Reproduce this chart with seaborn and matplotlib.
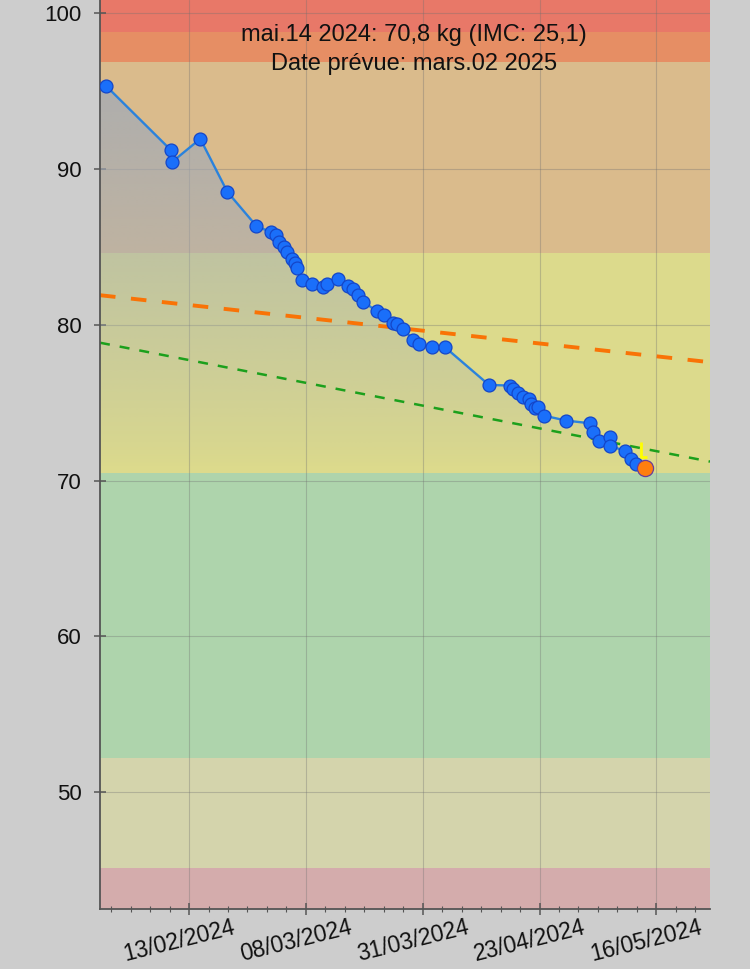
import numpy as np
import pandas as pd
import matplotlib
matplotlib.use("Agg")
import matplotlib.pyplot as plt
import matplotlib.dates as mdates
import matplotlib.transforms as mtransforms
from matplotlib.ticker import AutoMinorLocator, FixedLocator
from matplotlib.patches import Polygon
from matplotlib.path import Path
import seaborn as sns

sns.set_style("ticks")
plt.rcParams['font.family'] = ['Liberation Sans', 'DejaVu Sans']

# weight log (date, kg)
dates = [
    "2024-01-28 06:00", "2024-02-10 07:30", "2024-02-10 12:00", "2024-02-16 02:00",
    "2024-02-21 11:00", "2024-02-27 05:30", "2024-03-01 03:30", "2024-03-02 05:00",
    "2024-03-02 19:00", "2024-03-03 16:00", "2024-03-04 09:30", "2024-03-05 06:30",
    "2024-03-05 22:00", "2024-03-06 09:30", "2024-03-07 06:00", "2024-03-09 09:00",
    "2024-03-11 13:30", "2024-03-12 08:30", "2024-03-14 10:30", "2024-03-16 13:00",
    "2024-03-17 10:00", "2024-03-18 10:00", "2024-03-19 12:30", "2024-03-22 04:30",
    "2024-03-23 14:00", "2024-03-25 12:00", "2024-03-26 07:00", "2024-03-27 09:00",
    "2024-03-29 11:30", "2024-03-30 13:00", "2024-04-02 06:00", "2024-04-04 19:00",
    "2024-04-13 13:00", "2024-04-17 17:30", "2024-04-18 06:00", "2024-04-19 09:00",
    "2024-04-20 09:00", "2024-04-21 13:30", "2024-04-21 21:30", "2024-04-22 18:00",
    "2024-04-23 06:00", "2024-04-24 12:00", "2024-04-28 22:00", "2024-05-03 15:30",
    "2024-05-04 07:00", "2024-05-05 12:00", "2024-05-07 15:00", "2024-05-07 16:00",
    "2024-05-10 14:30", "2024-05-11 18:00", "2024-05-12 19:00", "2024-05-14 12:45",
]
weights = [
    95.36, 91.19, 90.46, 91.94, 88.54, 86.35, 85.94, 85.78,
    85.30, 84.98, 84.70, 84.24, 83.95, 83.65, 82.89, 82.63,
    82.41, 82.63, 82.95, 82.46, 82.31, 81.92, 81.49, 80.87,
    80.66, 80.13, 80.02, 79.74, 79.05, 78.78, 78.56, 78.56,
    76.14, 76.10, 75.89, 75.61, 75.39, 75.25, 74.92, 74.64,
    74.75, 74.17, 73.85, 73.68, 73.15, 72.57, 72.83, 72.25,
    71.88, 71.39, 71.07, 70.80,
]

# IMC bands (kg)
band_low = [42.4, 45.1, 52.2, 70.5, 84.6, 96.9, 98.8]
band_high = [45.1, 52.2, 70.5, 84.6, 96.9, 98.8, 101.0]
band_colors = ['#d4acac', '#d4d4ac', '#aed4ac', '#dcda8c', '#dabb8c', '#e68e64', '#e87868']

# trend lines at view edges
view_start, view_end = "2024-01-27 03:00", "2024-05-27 12:45"
trend_orange = [81.9, 77.6]
trend_green = [78.85, 71.22]

tick_start = "2024-02-13 20:24"
tick_step_days = 23.25
n_ticks = 5

title_text = "mai.14 2024: 70,8 kg (IMC: 25,1)\nDate prévue: mars.02 2025"

df = pd.DataFrame({'date': pd.to_datetime(dates), 'kg': weights})
edges = pd.to_datetime([view_start, view_end])

fig = plt.figure(figsize=(7.5, 9.69), dpi=100, facecolor='#cdcdcd')
ax = fig.add_axes([100 / 750, 60 / 969, 610 / 750, 909 / 969])

for lo, hi, c in zip(band_low, band_high, band_colors):
    ax.axhspan(lo, hi, color=c, zorder=0.5, lw=0)

# gradient fill under the curve (from the left edge of the view)
xnum = mdates.date2num(df['date'])
x0 = mdates.date2num(edges[0])
w_min, w_max = df['kg'].min(), df['kg'].max()
verts = np.column_stack([np.r_[x0, x0, xnum, xnum[-1]],
                         np.r_[w_min, df['kg'].iloc[0], df['kg'].values, w_min]])
poly = Polygon(verts, closed=True, facecolor='none', edgecolor='none')
ax.add_patch(poly)
grad = np.zeros((200, 1, 4))
grad[:, 0, :3] = [160 / 255, 170 / 255, 185 / 255]
grad[:, 0, 3] = np.linspace(0.0, 0.7, 200) ** 0.8
im = ax.imshow(grad, extent=[x0, xnum[-1], w_min, w_max], origin='lower',
               aspect='auto', zorder=1.2, interpolation='bilinear')
im.set_clip_path(poly)

sns.lineplot(x=edges, y=trend_orange, ax=ax, color='#f97306', lw=2.8,
             linestyle=(0, (4.0, 4.0)), zorder=2)
sns.lineplot(x=edges, y=trend_green, ax=ax, color='#1ca01c', lw=1.8,
             linestyle=(0, (4.0, 4.0)), zorder=2)

sns.lineplot(data=df, x='date', y='kg', ax=ax, color='#2a82dc', lw=1.7,
             marker='o', markersize=9.3, markerfacecolor='#1a6ffa',
             markeredgecolor='#1446c8', markeredgewidth=0.9, zorder=3)
last = df.iloc[[-1]]
sns.scatterplot(data=last, x='date', y='kg', ax=ax, s=135, color='#ff7f0e',
                edgecolor='#6a3d9a', linewidth=0.9, zorder=4)

# small yellow "L" mark up-left of the latest point
l_mark = Path([(-3.7, 26), (-3.7, 11), (1.8, 11)],
              [Path.MOVETO, Path.LINETO, Path.LINETO])
ax.plot(last['date'], last['kg'], marker=l_mark, markersize=37.4, ls='none',
        markerfacecolor='none', markeredgecolor='#ffff00', markeredgewidth=2.0,
        zorder=5)

ax.text(0.515, 1 - 24 / 909, title_text, transform=ax.transAxes, ha='center',
        va='top', fontsize=17, linespacing=1.4, color='#111111', zorder=6)

ax.set_xlim(edges[0], edges[1])
ax.set_ylim(42.5, 100.85)

major = pd.date_range(tick_start, periods=n_ticks, freq=pd.Timedelta(days=tick_step_days))
ax.xaxis.set_major_locator(FixedLocator(mdates.date2num(major)))
ax.xaxis.set_minor_locator(AutoMinorLocator(6))
ax.xaxis.set_major_formatter(mdates.DateFormatter('%d/%m/%Y'))
ax.set_yticks([50, 60, 70, 80, 90, 100])

ax.grid(True, color='#707070', alpha=0.35, lw=0.8)
for s in ['top', 'right']:
    ax.spines[s].set_visible(False)
for s in ['left', 'bottom']:
    ax.spines[s].set_color('#555555')
    ax.spines[s].set_linewidth(1.3)
ax.tick_params(axis='both', which='major', direction='inout', length=8,
               width=1.1, color='#555555', labelsize=16, labelcolor='#111111')
ax.tick_params(axis='x', which='minor', direction='inout', length=4,
               width=0.8, color='#555555')
ax.tick_params(axis='y', pad=9)
ax.tick_params(axis='x', pad=1)
shift = mtransforms.ScaledTranslation(-10 / 100, 0, fig.dpi_scale_trans)
for lab in ax.get_xticklabels():
    lab.set_rotation(14)
    lab.set_ha('center')
    lab.set_fontsize(16.5)
    lab.set_transform(lab.get_transform() + shift)
ax.set_xlabel('')
ax.set_ylabel('')
legend = ax.get_legend()
if legend is not None:
    legend.remove()

fig.savefig('out.png', dpi=100, facecolor=fig.get_facecolor())
